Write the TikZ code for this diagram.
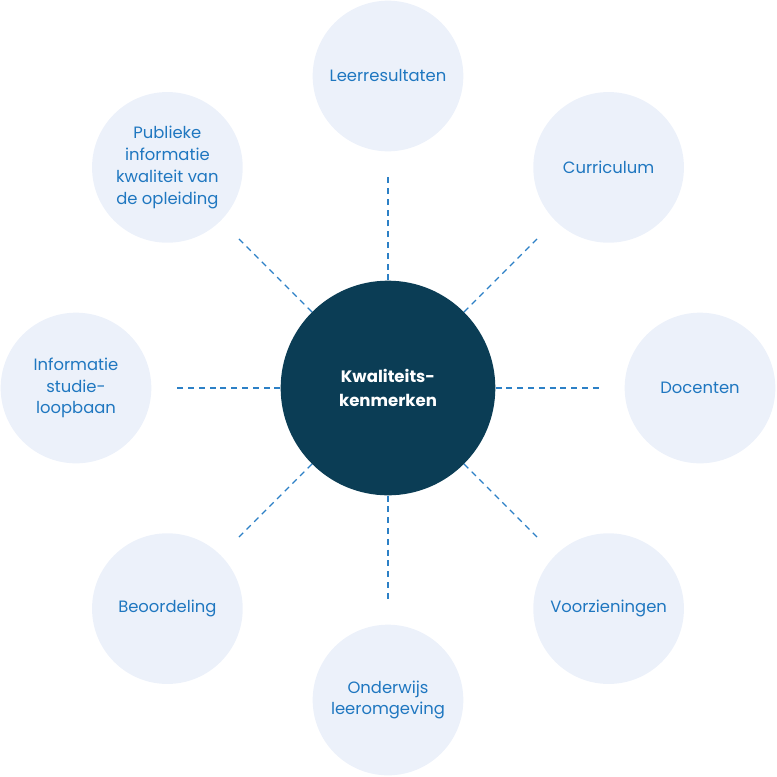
\documentclass[tikz,border=0pt]{standalone}
\usepackage{fontspec}
\setmainfont{Poppins}
\usepackage{xcolor}
\usepackage{tikz}

\definecolor{kerndonker}{HTML}{0B3D55}
\definecolor{bolvlak}{HTML}{ECF1FA}
\definecolor{tekstblauw}{HTML}{1F77C0}
\definecolor{lijnblauw}{HTML}{2C80C6}

\begin{document}
\begin{tikzpicture}[x=0.75pt,y=0.75pt,
    kenmerk/.style={circle,fill=bolvlak,minimum size=113pt,inner sep=0pt,
      align=center,text=tekstblauw,font=\fontsize{12.3}{16.3}\selectfont},
    kern/.style={circle,fill=kerndonker,minimum size=161pt,inner sep=0pt,
      align=center,text=white,font=\fontsize{12.4}{18}\selectfont\bfseries},
    stippel/.style={lijnblauw,line width=0.9pt,dash pattern=on 4.5pt off 3.6pt}]
  \useasboundingbox (-388,-388) rectangle (389,388);
  \node[kern] (kern) at (0,0) {Kwaliteits-\\kenmerken};
  \foreach \hoek/\naam/\tekst in {
      90/leer/{Leerresultaten},
      45/curr/{Curriculum},
      0/doc/{Docenten},
      -45/voorz/{Voorzieningen},
      -90/ond/{Onderwijs\\leeromgeving},
      -135/beo/{Beoordeling},
      180/info/{Informatie\\studie-\\loopbaan},
      135/pub/{Publieke\\informatie\\kwaliteit van\\de opleiding}} {
    \node[kenmerk] (\naam) at (\hoek:312) {\tekst};
    \coordinate (eind-\naam) at (\hoek:211);
    \draw[stippel] (kern.\hoek) -- (eind-\naam);
  }
\end{tikzpicture}
\end{document}
